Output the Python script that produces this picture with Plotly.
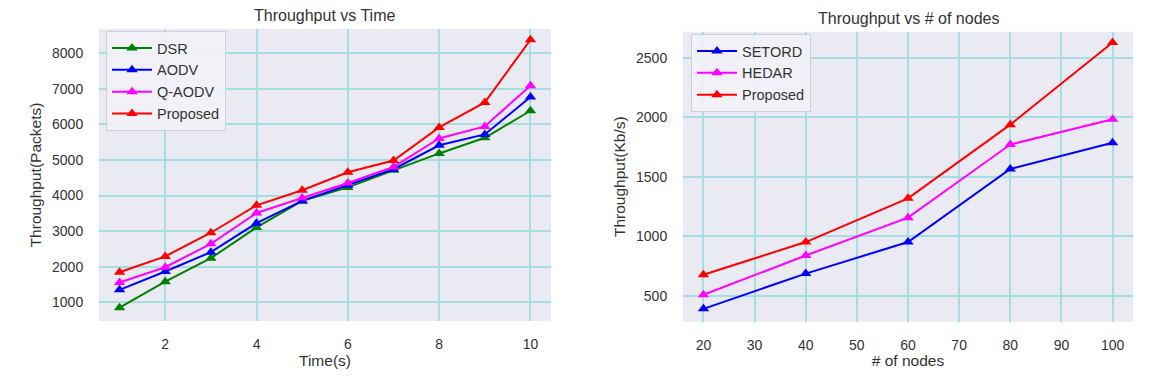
import plotly.graph_objects as go

# ---- Data: Throughput vs Time ----
time_s = [1, 2, 3, 4, 5, 6, 7, 8, 9, 10]
dsr = [850, 1580, 2240, 3105, 3850, 4230, 4710, 5185, 5625, 6385]
aodv = [1350, 1865, 2410, 3225, 3850, 4290, 4740, 5415, 5720, 6770]
q_aodv = [1555, 1985, 2645, 3510, 3930, 4355, 4805, 5605, 5945, 7090]
proposed_t = [1845, 2290, 2955, 3725, 4150, 4655, 4985, 5915, 6620, 8380]

# ---- Data: Throughput vs # of nodes ----
nodes = [20, 40, 60, 80, 100]
setord = [390, 686, 951, 1565, 1785]
hedar = [508, 838, 1156, 1770, 1982]
proposed_n = [677, 951, 1318, 1937, 2627]

left_ticks_x = [2, 4, 6, 8, 10]
left_ticks_y = [1000, 2000, 3000, 4000, 5000, 6000, 7000, 8000]
right_ticks_x = [20, 30, 40, 50, 60, 70, 80, 90, 100]
right_ticks_y = [500, 1000, 1500, 2000, 2500]

FONT = "Liberation Sans, Arial, sans-serif"
TXT = "#333333"
BG = "#EAEAF2"
GRID = "#A6DCE3"

# page has an 8px body margin; figure is sized so the page area is 1170x385
OFF = 8
W, H = 1170 - OFF, 385 - OFF


def px(x):
    return (x - OFF) / W


def py(y):
    return 1 - (y - OFF) / H


fig = go.Figure()


def add(x, y, name, color, xa, ya, legend):
    fig.add_trace(go.Scatter(
        x=x, y=y, name=name, mode="lines+markers",
        line=dict(color=color, width=2),
        marker=dict(symbol="triangle-up", size=10, color=color),
        xaxis=xa, yaxis=ya, legend=legend))


add(time_s, dsr, "DSR", "green", "x", "y", "legend")
add(time_s, aodv, "AODV", "blue", "x", "y", "legend")
add(time_s, q_aodv, "Q-AODV", "magenta", "x", "y", "legend")
add(time_s, proposed_t, "Proposed", "red", "x", "y", "legend")

add(nodes, setord, "SETORD", "blue", "x2", "y2", "legend2")
add(nodes, hedar, "HEDAR", "magenta", "x2", "y2", "legend2")
add(nodes, proposed_n, "Proposed", "red", "x2", "y2", "legend2")

axis_common = dict(showgrid=True, gridcolor=GRID, gridwidth=2, zeroline=False,
                   showline=False, automargin=False,
                   ticks="outside", tickcolor="rgba(0,0,0,0)",
                   tickfont=dict(size=14, color=TXT, family=FONT),
                   title_font=dict(size=15.5, color=TXT, family=FONT))

legend_common = dict(bgcolor="rgba(242,242,247,0.9)", bordercolor="#CFCFD6", borderwidth=1,
                     font=dict(size=14.5, color=TXT, family=FONT), xanchor="left", yanchor="top",
                     tracegroupgap=0, itemwidth=40)

fig.update_layout(
    width=W, height=H,
    margin=dict(l=0, r=0, t=0, b=0),
    paper_bgcolor="white",
    plot_bgcolor=BG,
    font=dict(family=FONT, color=TXT),
    xaxis=dict(domain=[px(99), px(551)], range=[0.55, 10.45], tickvals=left_ticks_x, ticklen=10,
               title=dict(text="Time(s)", standoff=2), anchor="y", **axis_common),
    yaxis=dict(domain=[py(321), py(29)], range=[474, 8683], tickvals=left_ticks_y, ticklen=12,
               title=dict(text="Throughput(Packets)", standoff=6), anchor="x", **axis_common),
    xaxis2=dict(domain=[px(683), px(1133)], range=[16, 104], tickvals=right_ticks_x, ticklen=10,
                title=dict(text="# of nodes", standoff=2), anchor="y2", **axis_common),
    yaxis2=dict(domain=[py(321.7), py(31.7)], range=[282, 2718], tickvals=right_ticks_y, ticklen=12,
                title=dict(text="Throughput(Kb/s)", standoff=6), anchor="x2", **axis_common),
    legend=dict(x=px(106), y=py(31), **legend_common),
    legend2=dict(x=px(691), y=py(34), **legend_common),
    annotations=[
        dict(text="Throughput vs Time", x=px((99 + 551) / 2), y=py(15), xref="paper", yref="paper",
             showarrow=False, font=dict(size=16, color=TXT, family=FONT),
             xanchor="center", yanchor="middle"),
        dict(text="Throughput vs # of nodes", x=px((683 + 1133) / 2), y=py(18), xref="paper", yref="paper",
             showarrow=False, font=dict(size=16, color=TXT, family=FONT),
             xanchor="center", yanchor="middle"),
    ],
    showlegend=True,
)

fig.write_html("out.html")
